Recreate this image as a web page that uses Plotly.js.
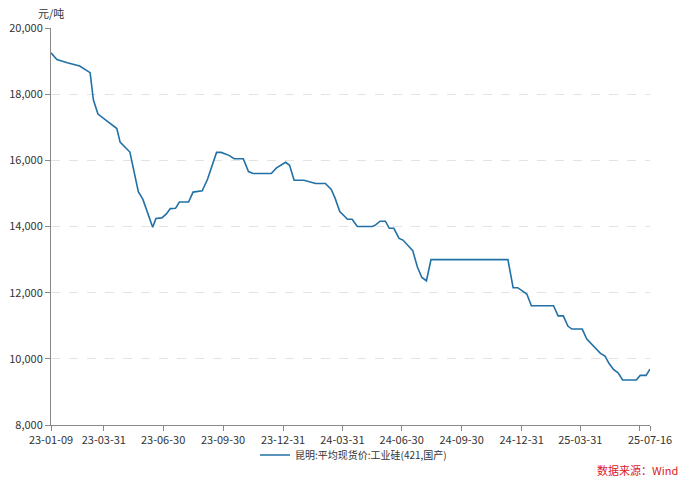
<!DOCTYPE html>
<html>
<head>
<meta charset="utf-8">
<script src="https://cdn.plot.ly/plotly-3.0.1.min.js"></script>
<style>
  html, body { margin: 0; padding: 0; background: #fff; }
  #chart { width: 700px; height: 485px; }
</style>
</head>
<body>
<div id="chart"></div>
<script>
// Data
const dates = [
  "2023-01-09","2023-01-18","2023-02-03","2023-02-22","2023-03-10","2023-03-15","2023-03-22",
  "2023-04-20","2023-04-25","2023-05-10","2023-05-23","2023-05-30","2023-06-14","2023-06-19",
  "2023-06-28","2023-07-05","2023-07-11","2023-07-19","2023-07-25","2023-08-08","2023-08-15",
  "2023-08-29","2023-09-06","2023-09-20","2023-09-27","2023-10-09","2023-10-17","2023-10-31",
  "2023-11-08","2023-11-15","2023-12-13","2023-12-21","2024-01-04","2024-01-10","2024-01-17",
  "2024-02-01","2024-02-19","2024-03-05","2024-03-14","2024-03-20","2024-03-27","2024-04-08",
  "2024-04-15","2024-04-23","2024-05-16","2024-05-21","2024-05-28","2024-06-05","2024-06-11",
  "2024-06-18","2024-06-26","2024-07-02","2024-07-17","2024-07-24","2024-07-31","2024-08-07",
  "2024-08-14","2024-12-10","2024-12-18","2024-12-25","2025-01-08","2025-01-15","2025-02-18",
  "2025-02-25","2025-03-05","2025-03-12","2025-03-18","2025-04-03","2025-04-10","2025-04-16",
  "2025-04-23","2025-05-01","2025-05-08","2025-05-14","2025-05-21","2025-05-28","2025-06-04",
  "2025-06-25","2025-07-01","2025-07-10","2025-07-16"
];
const prices = [
  19250,19050,18950,18850,18650,17830,17400,
  16960,16550,16250,15050,14820,13975,14240,
  14260,14380,14540,14550,14740,14740,15040,
  15080,15420,16240,16240,16150,16050,16050,
  15660,15600,15600,15770,15940,15850,15400,
  15400,15300,15300,15120,14850,14450,14220,
  14220,14000,14000,14050,14160,14160,13945,
  13945,13640,13590,13270,12785,12460,12360,
  13000,13000,12150,12150,11960,11605,11605,
  11300,11300,10990,10900,10900,10600,10470,
  10335,10165,10085,9865,9680,9580,9360,
  9360,9500,9500,9690
];
const seriesName = "昆明:平均现货价:工业硅(421,国产)";
const xTickVals = ["2023-01-09","2023-03-31","2023-06-30","2023-09-30","2023-12-31","2024-03-31",
                   "2024-06-30","2024-09-30","2024-12-31","2025-03-31","2025-06-30","2025-07-16"];
const xTickText = ["23-01-09","23-03-31","23-06-30","23-09-30","23-12-31","24-03-31",
                   "24-06-30","24-09-30","24-12-31","25-03-31","","25-07-16"];
const yUnit = "元/吨";
const sourceText = "数据来源：Wind";

const FONT = "'Noto Sans CJK SC', 'Noto Sans', sans-serif";

const trace = {
  x: dates,
  y: prices,
  type: "scatter",
  mode: "lines",
  name: seriesName,
  line: { color: "#2171a6", width: 1.6 }
};

const layout = {
  width: 700,
  height: 485,
  margin: { l: 51, r: 50, t: 28, b: 60, autoexpand: false },
  paper_bgcolor: "#ffffff",
  plot_bgcolor: "#ffffff",
  font: { family: FONT, size: 11, color: "#333" },
  showlegend: true,
  legend: {
    orientation: "h",
    xref: "container", yref: "container",
    x: 0.505, xanchor: "center",
    y: 0.062, yanchor: "middle",
    bgcolor: "rgba(0,0,0,0)",
    font: { family: FONT, size: 10, color: "#333" },
    itemwidth: 30
  },
  xaxis: {
    type: "date",
    range: ["2023-01-09", "2025-07-16"],
    tickmode: "array",
    tickvals: xTickVals,
    ticktext: xTickText,
    showgrid: false,
    zeroline: false,
    showline: true,
    linecolor: "#888",
    linewidth: 1,
    ticks: "outside",
    ticklen: 5,
    tickcolor: "#888",
    tickfont: { family: FONT, size: 11, color: "#333" }
  },
  yaxis: {
    range: [8000, 20000],
    dtick: 2000,
    tick0: 8000,
    tickformat: ",d",
    showgrid: true,
    gridcolor: "#e3e3e3",
    griddash: "dash",
    gridwidth: 1,
    zeroline: false,
    showline: true,
    linecolor: "#888",
    linewidth: 1,
    ticks: "outside",
    ticklen: 5,
    tickcolor: "#888",
    tickfont: { family: FONT, size: 11, color: "#333" }
  },
  annotations: [
    {
      text: yUnit, xref: "paper", yref: "paper",
      x: 0, y: 1, xanchor: "center", yanchor: "bottom", yshift: 5, xshift: 0,
      showarrow: false, font: { family: FONT, size: 11, color: "#333" }
    },
    {
      text: sourceText, xref: "paper", yref: "paper",
      x: 1, y: 0, xanchor: "right", yanchor: "middle", xshift: 30, yshift: -45,
      showarrow: false, font: { family: FONT, size: 11, color: "#e0201b" }
    }
  ]
};

Plotly.newPlot("chart", [trace], layout, { displayModeBar: false, staticPlot: true });
</script>
</body>
</html>
